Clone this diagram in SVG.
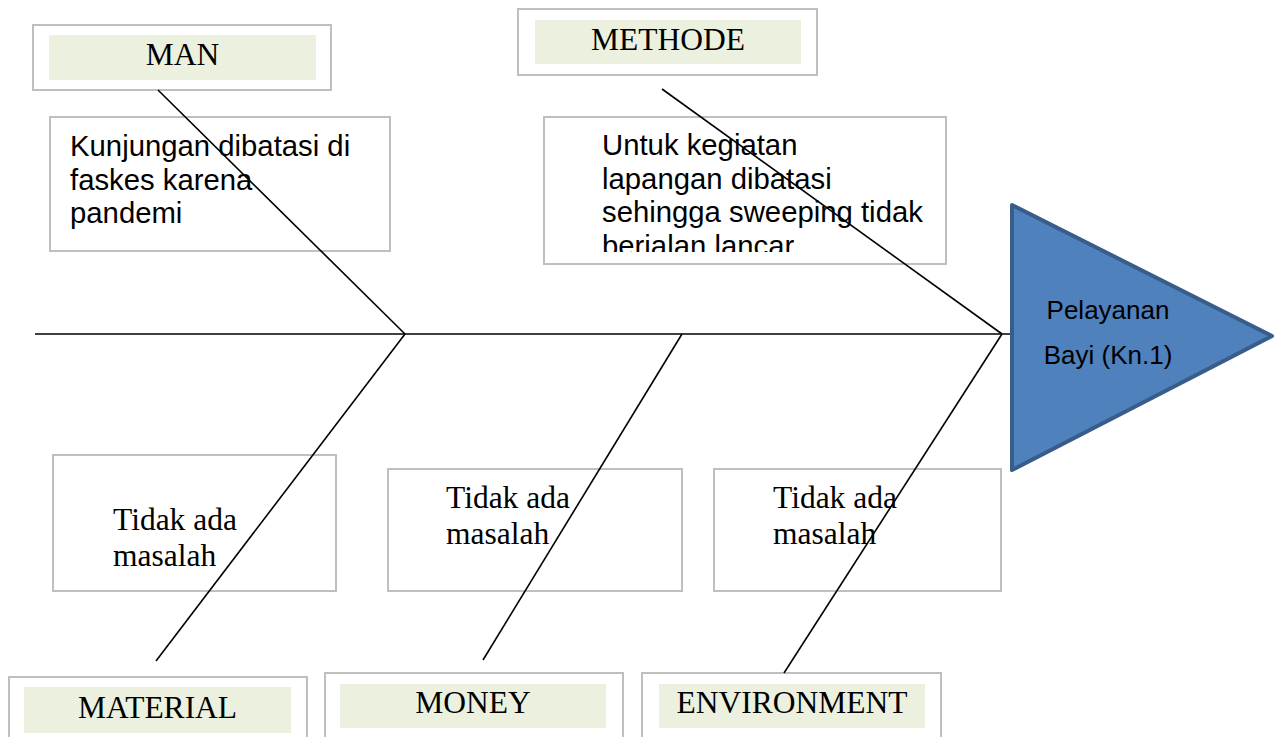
<svg xmlns="http://www.w3.org/2000/svg" width="1282" height="737" viewBox="0 0 1282 737">
<style>
.frame{fill:none;stroke:#BFBFBF;stroke-width:2}
.band{fill:#EBF1DE;stroke:none}
.cat{font-family:"Liberation Serif","Times New Roman",serif;font-size:31.5px;fill:#000;text-anchor:middle}
.note{font-family:"Liberation Sans",Arial,sans-serif;font-size:29.3px;fill:#000}
.noteS{font-family:"Liberation Serif","Times New Roman",serif;font-size:31.5px;fill:#000}
.bone{stroke:#000;stroke-width:1.6;fill:none}
.head{fill:#4F81BD;stroke:#385D8A;stroke-width:4;stroke-linejoin:round}
.headT{font-family:"Liberation Sans",Arial,sans-serif;font-size:26px;fill:#000;text-anchor:middle}
</style>
<defs>
<clipPath id="clipM"><rect x="544" y="117" width="402" height="135"/></clipPath>
</defs>
<rect width="1282" height="737" fill="#fff"/>

<g id="man">
<rect class="frame" x="33" y="25" width="298" height="65"/>
<rect class="band" x="49" y="35" width="267" height="45"/>
<text class="cat" x="182.5" y="65">MAN</text>
</g>
<g id="methode">
<rect class="frame" x="518" y="9" width="299" height="66"/>
<rect class="band" x="535" y="20" width="266" height="44"/>
<text class="cat" x="668" y="50">METHODE</text>
</g>
<g id="material">
<rect class="frame" x="9" y="677" width="298" height="70"/>
<rect class="band" x="24" y="687" width="267" height="46"/>
<text class="cat" x="157.5" y="718">MATERIAL</text>
</g>
<g id="money">
<rect class="frame" x="325" y="673" width="298" height="74"/>
<rect class="band" x="340" y="684" width="266" height="44"/>
<text class="cat" x="473" y="713">MONEY</text>
</g>
<g id="environment">
<rect class="frame" x="642" y="673" width="299" height="74"/>
<rect class="band" x="659" y="684" width="266" height="44"/>
<text class="cat" x="792" y="713">ENVIRONMENT</text>
</g>

<g id="man-cause">
<rect class="frame" x="50" y="117" width="340" height="134"/>
<text class="note"><tspan x="70" y="156">Kunjungan dibatasi di</tspan><tspan x="70" y="190">faskes karena</tspan><tspan x="70" y="223">pandemi</tspan></text>
</g>
<g id="methode-cause">
<rect class="frame" x="544" y="117" width="402" height="147"/>
<text class="note" clip-path="url(#clipM)"><tspan x="602" y="155">Untuk kegiatan</tspan><tspan x="602" y="189">lapangan dibatasi</tspan><tspan x="602" y="222">sehingga sweeping tidak</tspan><tspan x="602" y="256">berjalan lancar</tspan></text>
</g>
<g id="material-cause">
<rect class="frame" x="53" y="455" width="283" height="136"/>
<text class="noteS"><tspan x="113" y="530">Tidak ada</tspan><tspan x="113" y="566">masalah</tspan></text>
</g>
<g id="money-cause">
<rect class="frame" x="388" y="469" width="294" height="122"/>
<text class="noteS"><tspan x="446" y="508">Tidak ada</tspan><tspan x="446" y="544">masalah</tspan></text>
</g>
<g id="environment-cause">
<rect class="frame" x="714" y="469" width="287" height="122"/>
<text class="noteS"><tspan x="773" y="508">Tidak ada</tspan><tspan x="773" y="544">masalah</tspan></text>
</g>

<g id="connectors">
<line class="bone" x1="35" y1="334" x2="1012" y2="334"/>
<line class="bone" x1="158" y1="90" x2="405" y2="334"/>
<line class="bone" x1="405" y1="334" x2="156" y2="661"/>
<line class="bone" x1="682" y1="334" x2="483" y2="660"/>
<line class="bone" x1="662" y1="89" x2="1002" y2="334"/>
<line class="bone" x1="1002" y1="334" x2="784" y2="673"/>
</g>

<g id="effect">
<polygon class="head" points="1012,205 1272,336 1012,470"/>
<text class="headT" x="1108" y="319">Pelayanan</text>
<text class="headT" x="1108" y="364">Bayi (Kn.1)</text>
</g>
</svg>
